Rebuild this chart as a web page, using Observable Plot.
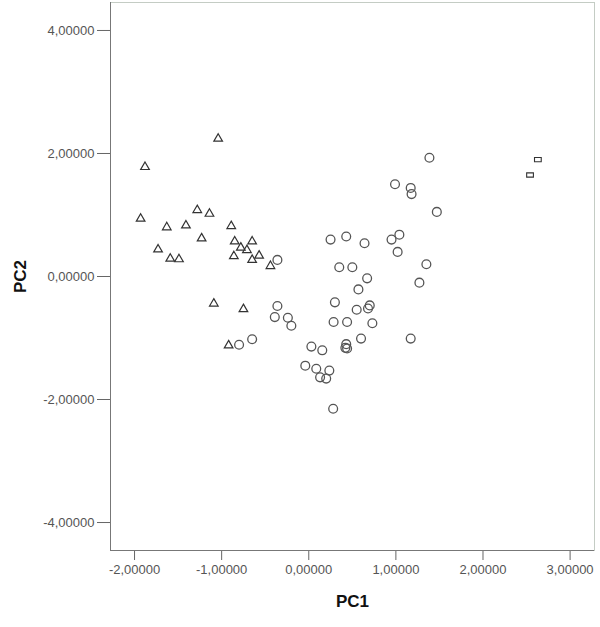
<!DOCTYPE html>
<html>
<head>
<meta charset="utf-8">
<script src="https://cdn.jsdelivr.net/npm/d3@7"></script>
<script src="https://cdn.jsdelivr.net/npm/@observablehq/plot@0.6"></script>
<style>
  html, body { margin: 0; padding: 0; background: #fff; }
  #chart svg { display: block; }
</style>
</head>
<body>
<div id="chart"></div>
<script>
// Group 1 (triangles)
const triPC1 = [-1.04, -1.88, -1.93, -1.28, -1.14, -1.63, -1.41, -0.89, -1.23, -1.73, -1.59, -1.49,
                -0.85, -0.65, -0.78, -0.71, -0.86, -0.65, -0.57, -0.44, -1.09, -0.75, -0.92];
const triPC2 = [2.24, 1.78, 0.94, 1.08, 1.02, 0.80, 0.83, 0.82, 0.62, 0.44, 0.29, 0.28,
                0.57, 0.57, 0.47, 0.43, 0.33, 0.27, 0.34, 0.17, -0.44, -0.53, -1.12];
// Group 2 (circles)
const cirPC1 = [-0.36, -0.36, -0.39, -0.24, -0.20, -0.80, -0.65, 0.25, 0.43, 0.64, 0.95, 1.04,
                1.02, 0.35, 0.50, 1.35, 0.67, 0.57, 1.27, 0.30, 0.55, 0.68, 0.70, 0.285,
                0.44, 0.73, 1.17, 0.60, 0.03, 0.155, 0.43, 0.42, 0.44, -0.04, 0.086, 0.236,
                0.13, 0.20, 0.28, 1.385, 0.99, 1.17, 1.18, 1.47];
const cirPC2 = [0.27, -0.48, -0.66, -0.67, -0.80, -1.11, -1.02, 0.60, 0.65, 0.54, 0.60, 0.68,
                0.40, 0.15, 0.15, 0.20, -0.03, -0.21, -0.10, -0.42, -0.54, -0.52, -0.47, -0.74,
                -0.74, -0.76, -1.01, -1.01, -1.14, -1.20, -1.10, -1.16, -1.17, -1.45, -1.50, -1.53,
                -1.64, -1.66, -2.15, 1.93, 1.50, 1.44, 1.34, 1.05];
// Group 3 (small rectangles)
const sqPC1 = [2.63, 2.54];
const sqPC2 = [1.90, 1.65];

const ticksX = [-2, -1, 0, 1, 2, 3];
const ticksY = [-4, -2, 0, 2, 4];

const toRows = (xs, ys) => xs.map((x, i) => ({pc1: x, pc2: ys[i]}));
const tri = toRows(triPC1, triPC2);
const cir = toRows(cirPC1, cirPC2);
const sq = toRows(sqPC1, sqPC2);

const fmt = d => d.toFixed(5).replace(".", ",");

const wideRect = {
  draw(context, size) {
    const s = Math.sqrt(size);
    const w = s * 1.9, h = s * 1.2;
    context.rect(-w / 2, -h / 2, w, h);
  }
};

const plot = Plot.plot({
  width: 600,
  height: 627,
  marginLeft: 110,
  marginRight: 6,
  marginTop: 2,
  marginBottom: 77,
  style: {fontFamily: "'Liberation Sans', Arial, sans-serif", background: "#fff"},
  x: {domain: [-2.276, 3.28]},
  y: {domain: [-4.455, 4.455]},
  marks: [
    Plot.frame({stroke: "#c4ccc4"}),
    Plot.axisX({
      ticks: ticksX, tickFormat: fmt, tickSize: 10, tickPadding: 4,
      fontSize: 13, color: "#555", stroke: "#666",
      label: "PC1", labelAnchor: "center", labelArrow: "none", labelOffset: 56
    }),
    Plot.axisY({
      ticks: ticksY, tickFormat: fmt, tickSize: 13, tickPadding: 3,
      fontSize: 13, color: "#555", stroke: "#666",
      label: "PC2", labelAnchor: "center", labelArrow: "none", labelOffset: 97
    }),
    Plot.ruleX([-2.276], {stroke: "#777"}),
    Plot.ruleY([-4.455], {stroke: "#777"}),
    Plot.dot(tri, {x: "pc1", y: "pc2", symbol: "triangle", r: 3.2, stroke: "#333", strokeWidth: 1.2, fill: "none"}),
    Plot.dot(cir, {x: "pc1", y: "pc2", symbol: "circle", r: 4.4, stroke: "#555", strokeWidth: 1.3, fill: "none"}),
    Plot.dot(sq, {x: "pc1", y: "pc2", symbol: wideRect, r: 2, stroke: "#333", strokeWidth: 1.1, fill: "none"})
  ]
});

// Style axis labels bold and larger
plot.querySelectorAll('[aria-label="x-axis label"] text, [aria-label="y-axis label"] text').forEach(t => {
  t.setAttribute("font-size", 17);
  t.setAttribute("font-weight", "bold");
  t.setAttribute("fill", "#111");
  t.style.fontSize = "17px";
  t.style.fontWeight = "bold";
  t.style.fill = "#111";
});

document.getElementById("chart").appendChild(plot);
</script>
</body>
</html>
